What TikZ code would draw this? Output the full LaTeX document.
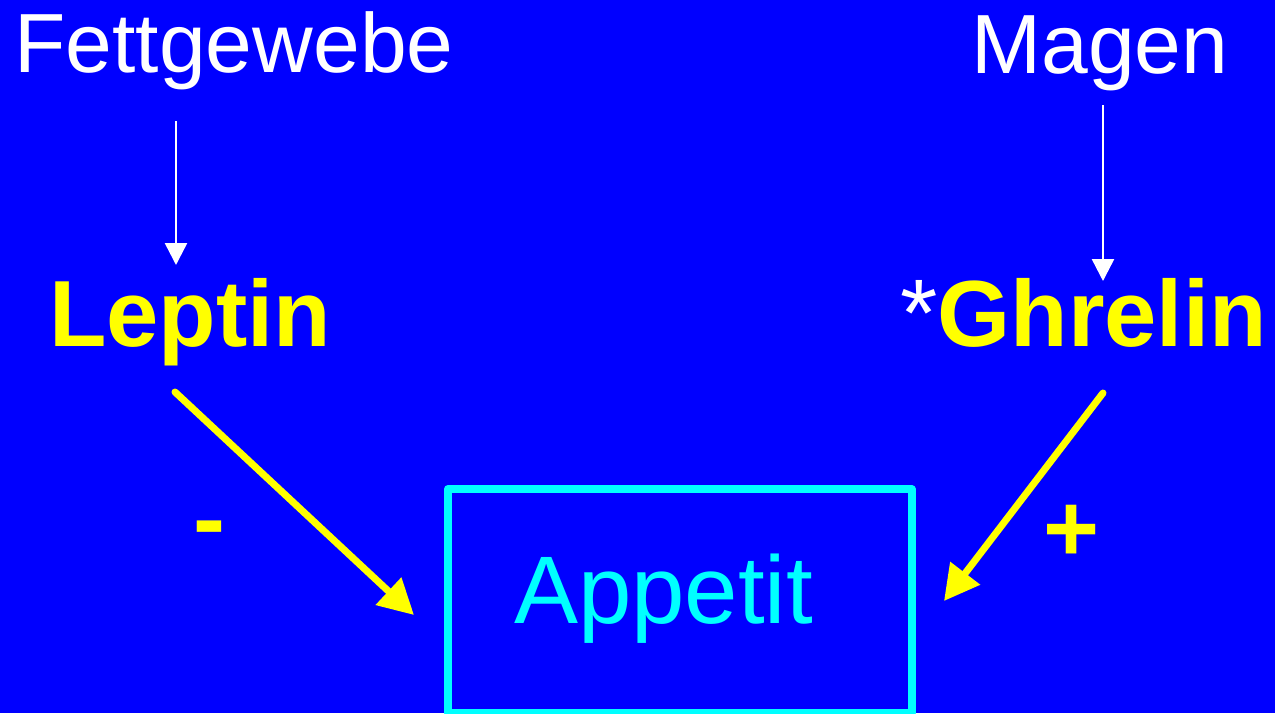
\documentclass[tikz,border=0pt]{standalone}
\usepackage{fontspec}
\setmainfont{Liberation Sans}
\usetikzlibrary{arrows.meta}
\definecolor{slideblue}{RGB}{0,0,255}
\definecolor{hormoneyellow}{RGB}{255,255,0}
\definecolor{boxcyan}{RGB}{0,255,255}

\begin{document}
\begin{tikzpicture}[x=1pt,y=-1pt,
  organ/.style={text=white, inner sep=0pt, anchor=base,
    font=\fontsize{84}{84}\selectfont},
  hormone/.style={text=hormoneyellow, inner sep=0pt, anchor=base,
    font=\bfseries\fontsize{94}{94}\selectfont},
  effect/.style={text=hormoneyellow, inner sep=0pt, anchor=base,
    font=\bfseries\fontsize{96}{96}\selectfont},
  target/.style={text=boxcyan, inner sep=0pt, anchor=base,
    font=\fontsize{96}{96}\selectfont},
  targetbox/.style={draw=boxcyan, line width=8pt, line join=round,
    inner sep=0pt, minimum width=463.5pt, minimum height=224pt},
  secretes/.style={draw=white, line width=2.5pt,
    -{Triangle[length=22pt, width=22pt]}},
  acts/.style={draw=hormoneyellow, line width=7pt, line cap=round,
    -{Triangle[length=35pt, width=36pt]}}
]
% background
\path[use as bounding box, fill=slideblue] (0,0) rectangle (1275,713);

% sources
\node[organ] (fett) at (234,72) {Fettgewebe};
\node[organ] (magen) at (1100,73) {Magen};

% hormones
\node[hormone] (leptin) at (190,346) {Leptin};
\node[hormone, anchor=base west] (ghrelin) at (900,346)
  {{\mdseries\fontsize{96}{96}\selectfont\color{white}*}Ghrelin};

% target
\node[targetbox] (box) at (679.75,601) {};
\node[target] (appetit) at (663.5,623) {Appetit};

% signs
\node[effect] (minus) at (209,551) {-};
\node[effect] (plus) at (1071.5,561) {+};

% connector end points
\coordinate (fettout) at (176,121);
\coordinate (leptinin) at (176,265);
\coordinate (magenout) at (1103,105);
\coordinate (ghrelinin) at (1103,281);
\coordinate (leptinout) at (175,392);
\coordinate (appetitleft) at (414,615);
\coordinate (ghrelinout) at (1103,393);
\coordinate (appetitright) at (944,601);

\draw[secretes] (fettout) -- (leptinin);
\draw[secretes] (magenout) -- (ghrelinin);
\draw[acts] (leptinout) -- (appetitleft);
\draw[acts] (ghrelinout) -- (appetitright);
\end{tikzpicture}
\end{document}
